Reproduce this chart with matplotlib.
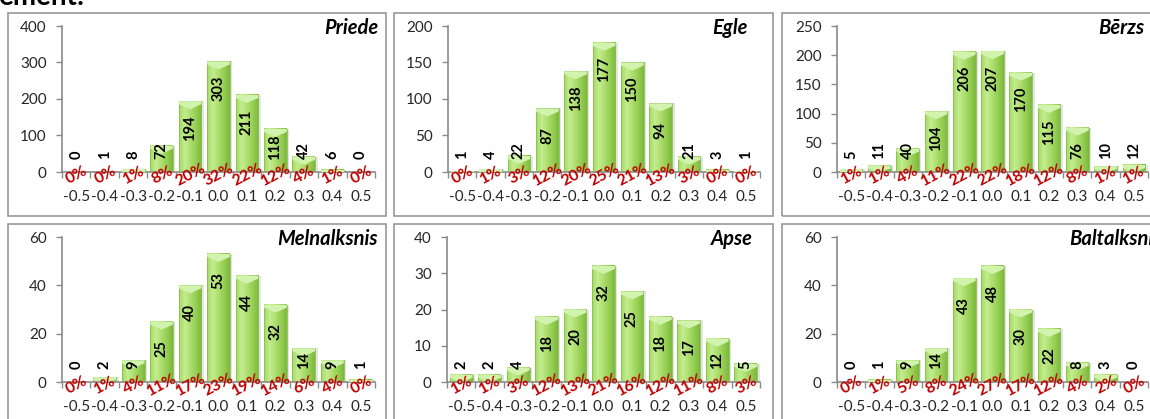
import numpy as np
import matplotlib.pyplot as plt
from matplotlib.colors import LinearSegmentedColormap
from matplotlib.patches import Rectangle, Polygon

plt.rcParams['font.family'] = ['Lato', 'DejaVu Sans']

W, H = 1150, 419

# dati
bins = ['-0.5', '-0.4', '-0.3', '-0.2', '-0.1', '0.0', '0.1', '0.2', '0.3', '0.4', '0.5']
species = ['Priede', 'Egle', 'Bērzs', 'Melnalksnis', 'Apse', 'Baltalksnis']
priede = [0, 1, 8, 72, 194, 303, 211, 118, 42, 6, 0]
egle = [1, 4, 22, 87, 138, 177, 150, 94, 21, 3, 1]
berzs = [5, 11, 40, 104, 206, 207, 170, 115, 76, 10, 12]
melnalksnis = [0, 2, 9, 25, 40, 53, 44, 32, 14, 9, 1]
apse = [2, 2, 4, 18, 20, 32, 25, 18, 17, 12, 5]
baltalksnis = [0, 1, 9, 14, 43, 48, 30, 22, 8, 3, 0]
y_max = [400, 200, 250, 60, 40, 60]
y_step = [100, 50, 50, 20, 10, 20]

series = [priede, egle, berzs, melnalksnis, apse, baltalksnis]

# izkārtojums pikseļos (kreisā, augša, labā, apakša)
axes_px = [(62, 26, 375, 172), (448, 26, 760, 172), (837, 26, 1148, 172),
           (62, 237, 375, 382), (447, 237, 760, 382), (837, 237, 1148, 382)]
box_px = [(8, 13, 386, 216.5), (394, 13, 772.5, 216.5), (782, 13, 1170, 216.5),
          (8, 224, 386, 440), (394, 224, 772.5, 440), (782, 224, 1170, 440)]
# virsraksta labā mala un bāzes līnija
title_px = [(378, 34), (748, 34), (1144, 34), (378, 245), (753, 245), (1162, 245)]

grad_cmap = LinearSegmentedColormap.from_list(
    'bar', ['#a3d962', '#c4ed90', '#addf6e', '#94ce52', '#7db83e'])
grad = np.linspace(0, 1, 64).reshape(1, -1)


def frac(l, t, r, b):
    return [l / W, 1 - b / H, (r - l) / W, (b - t) / H]


fig = plt.figure(figsize=(W / 100, H / 100), dpi=100, facecolor='white')

for (l, t, r, b) in box_px:
    fig.patches.append(Rectangle((l / W, 1 - b / H), (r - l) / W, (b - t) / H,
                                 transform=fig.transFigure, fill=False,
                                 edgecolor='#8f8f8f', linewidth=1.1))

fig.text(-0.002, 1 - 5 / H, 'ement:', fontsize=20, fontweight='bold',
         va='baseline', ha='left')

x = np.arange(len(bins))
bw = 0.8

for k, vals in enumerate(series):
    l, t, r, b = axes_px[k]
    ax = fig.add_axes(frac(l, t, r, b))
    ymax = y_max[k]
    ppu = (b - t) / ymax          # pikseļi uz vienību
    upp_x = len(bins) / (r - l)   # x vienības uz pikseli
    total = sum(vals)

    # ēna
    ax.bar(x + 2.5 * upp_x, vals, bw, color='#d9d9d9', alpha=0.7, zorder=1,
           linewidth=0)
    for i, v in enumerate(vals):
        if v <= 0:
            continue
        x0 = i - bw / 2
        ax.imshow(grad, extent=[x0, x0 + bw, 0, v], aspect='auto',
                  cmap=grad_cmap, zorder=2, interpolation='bilinear')
        ax.add_patch(Rectangle((x0, 0), bw, v, fill=False,
                               edgecolor='#86c24a', linewidth=0.6, zorder=3))
        b1 = min(3 / ppu, v)
        b2 = min(8 / ppu, v)
        ax.add_patch(Polygon([(x0, v), (x0 + bw, v), (x0 + bw, v - b1),
                              (i, v - b2), (x0, v - b1)],
                             closed=True, facecolor='#d2f3ad',
                             edgecolor='none', zorder=3))

    # skaita etiķetes
    for i, v in enumerate(vals):
        s = str(v)
        c = max(v * ppu - 27, 13.5 + 3.9 * len(s))
        ax.annotate(s, xy=(i, 0), xytext=(0, c), textcoords='offset pixels',
                    rotation=90, ha='center', va='center', fontsize=10.5,
                    fontweight='bold', color='black', zorder=5)

    # procenti
    for i, v in enumerate(vals):
        p = int(v / total * 100 + 0.5)
        ax.annotate(f'{p}%', xy=(i, 0), xytext=(0.5, -3),
                    textcoords='offset pixels', rotation=28, ha='center',
                    va='center', fontsize=11.5, fontweight='bold',
                    color='#c00000', zorder=6, annotation_clip=False)

    ax.set_xlim(-0.5, len(bins) - 0.5)
    ax.set_ylim(0, ymax)
    ax.set_xticks(x)
    ax.set_xticklabels(bins)
    ax.set_xticks(np.arange(-0.5, len(bins), 1), minor=True)
    ax.set_yticks(np.arange(0, ymax + 1, y_step[k]))
    ax.tick_params(axis='x', which='major', length=0, pad=13, labelsize=11,
                   labelcolor='#262626')
    ax.tick_params(axis='x', which='minor', length=4, color='#8a8a8a',
                   width=1)
    ax.tick_params(axis='y', length=4, color='#8a8a8a', width=1, pad=7,
                   labelsize=11, labelcolor='#262626')
    for side in ['top', 'right']:
        ax.spines[side].set_visible(False)
    for side in ['left', 'bottom']:
        ax.spines[side].set_color('#8a8a8a')
        ax.spines[side].set_linewidth(1.2)
    ax.patch.set_alpha(0)

    tx, ty = title_px[k]
    fig.text(tx / W, 1 - ty / H, species[k], fontsize=14.5, fontweight='bold',
             fontstyle='italic', ha='right', va='baseline')

fig.savefig('out.png', dpi=100, facecolor='white')
